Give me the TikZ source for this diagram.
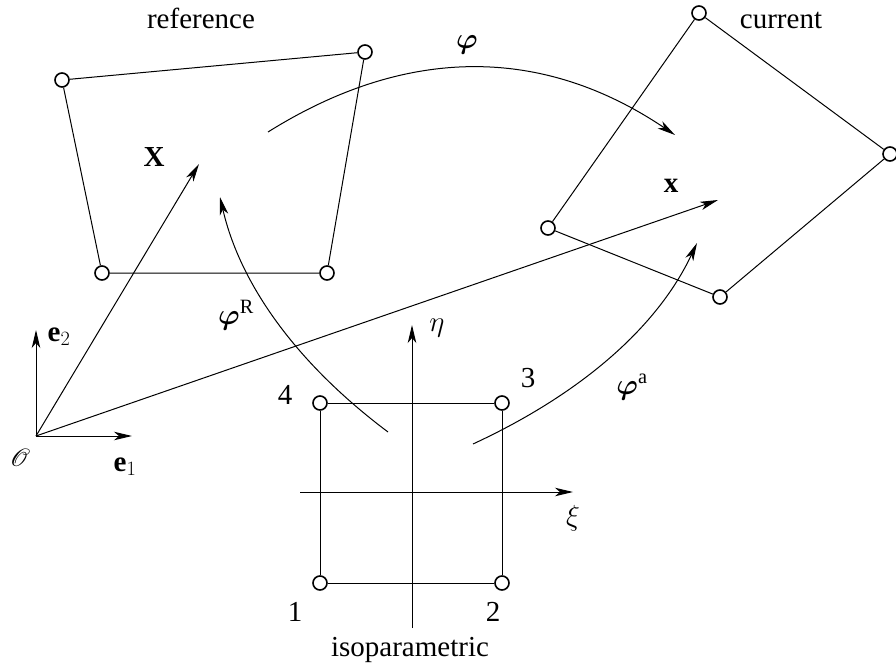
\RequirePackage{fix-cm}
\documentclass[tikz,border=0pt]{standalone}
\usepackage{amsmath,bm}
\usepackage{mathrsfs}
\usepackage{fontspec}
\setmainfont{Liberation Serif}
\usetikzlibrary{arrows.meta}
\begin{document}
\begin{tikzpicture}[x=1pt,y=-1pt,
  font=\fontsize{29}{34}\selectfont,
  vtx/.style={circle,draw,line width=1.6pt,fill=white,inner sep=0pt,minimum size=14pt},
  edg/.style={line width=1pt},
  arr/.style={line width=1pt,-{Stealth[length=18pt,width=8.5pt,inset=5pt]}},
  lbl/.style={inner sep=0pt}]
\useasboundingbox (0,0) rectangle (896,671);
% reference configuration
\node[vtx] (r1) at (62,80) {};
\node[vtx] (r2) at (365,52) {};
\node[vtx] (r3) at (327,273) {};
\node[vtx] (r4) at (102,273) {};
\draw[edg] (r1) -- (r2) -- (r3) -- (r4) -- (r1);
% current configuration
\node[vtx] (c1) at (699,13) {};
\node[vtx] (c2) at (890,154) {};
\node[vtx] (c3) at (720,297) {};
\node[vtx] (c4) at (548,228) {};
\draw[edg] (c1) -- (c2) -- (c3) -- (c4) -- (c1);
% isoparametric element
\node[vtx] (i1) at (320,583) {};
\node[vtx] (i2) at (502,583) {};
\node[vtx] (i3) at (502,403) {};
\node[vtx] (i4) at (320,403) {};
\draw[edg] (i1) -- (i2) -- (i3) -- (i4) -- (i1);
% axes of the parent element
\coordinate (etaS) at (412,628);
\coordinate (etaE) at (412,325);
\coordinate (xiS) at (300,492);
\coordinate (xiE) at (573,492);
\draw[arr] (etaS) -- (etaE);
\draw[arr] (xiS) -- (xiE);
% origin and base vectors
\coordinate (O) at (36,436);
\coordinate (e1) at (132,436);
\coordinate (e2) at (36,330);
\coordinate (Xt) at (199,164);
\coordinate (xt) at (718,200);
\draw[arr] (O) -- (e1);
\draw[arr] (O) -- (e2);
\draw[arr] (O) -- (Xt);
\draw[arr] (O) -- (xt);
% mappings
\coordinate (phS) at (268,132);
\coordinate (phE) at (675,135);
\draw[arr] (phS) .. controls (407,45) and (543,46) .. (phE);
\coordinate (pRS) at (388,432);
\coordinate (pRE) at (220,197);
\draw[arr] (pRS) .. controls (296,363) and (240,284) .. (pRE);
\coordinate (paS) at (473,444);
\coordinate (paE) at (697,243);
\draw[arr] (paS) .. controls (583,393) and (658,326) .. (paE);
% labels
\node[lbl] (tref) at (201,18) {reference};
\node[lbl] (tcur) at (781,20) {current};
\node[lbl] (tiso) at (410,650) {isoparametric};
\node[lbl] (tphi) at (467,45) {$\bm{\varphi}$};
\node[lbl] (tphiR) at (236,315) {$\bm{\varphi}^{\mathrm{R}}$};
\node[lbl] (tphia) at (632,387) {$\bm{\varphi}^{\mathrm{a}}$};
\node[lbl] (tX) at (154,157) {\textbf{X}};
\node[lbl] (tx) at (671,186) {\textbf{x}};
\node[lbl] (te1) at (125,467) {\textbf{e}$_1$};
\node[lbl] (te2) at (59,337) {\textbf{e}$_2$};
\node[lbl] (tO) at (20,458) {$\mathscr{O}$};
\node[lbl] (teta) at (437,328) {$\eta$};
\node[lbl] (txi) at (573,518) {$\xi$};
\node[lbl] (t1) at (295,612) {1};
\node[lbl] (t2) at (493,612) {2};
\node[lbl] (t3) at (528,378) {3};
\node[lbl] (t4) at (285,395) {4};
\end{tikzpicture}
\end{document}
